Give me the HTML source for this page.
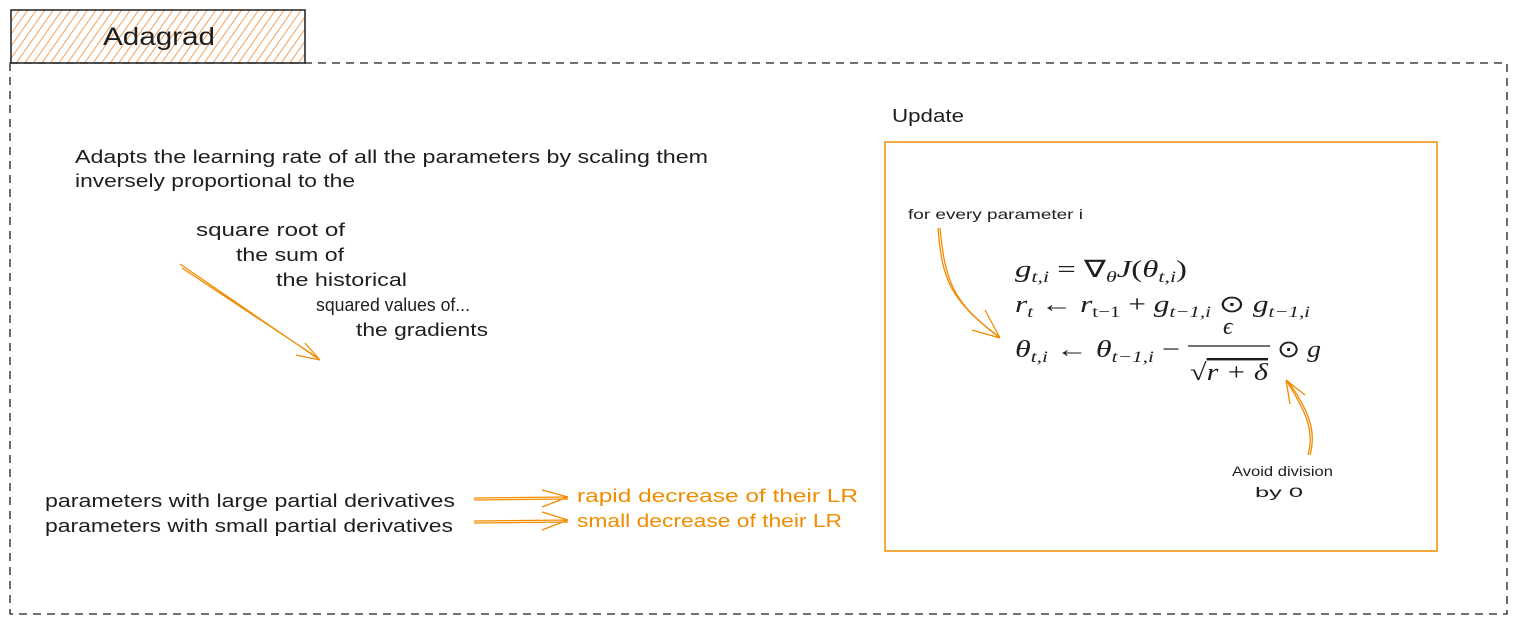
<!DOCTYPE html>
<html><head><meta charset="utf-8"><style>
html,body{margin:0;padding:0;background:#fff;width:1516px;height:623px;overflow:hidden}
text{font-family:"Liberation Sans",sans-serif}
.m{font-family:"Liberation Serif",serif;font-style:italic;font-size:24px}
.u{font-style:normal}
</style></head><body>
<svg width="1516" height="623" viewBox="0 0 1516 623" xmlns="http://www.w3.org/2000/svg">
<defs>
<pattern id="hatch" width="7" height="7" patternUnits="userSpaceOnUse" patternTransform="rotate(35)">
<line x1="0" y1="0" x2="0" y2="7" stroke="#f5a05a" stroke-width="2"/>
</pattern>
</defs>
<g>
<rect x="11" y="10" width="294" height="53" fill="url(#hatch)" stroke="#1e1e1e" stroke-width="1.5"/>
<text x="103" y="45" font-size="25" fill="#1e1e1e" textLength="112" lengthAdjust="spacingAndGlyphs">Adagrad</text>
</g>
<rect x="10" y="63" width="1497" height="551" fill="none" stroke="#1e1e1e" stroke-width="1.3" stroke-dasharray="8 6"/>
<g font-size="18" fill="#1e1e1e" lengthAdjust="spacingAndGlyphs">
<text x="75" y="163" textLength="633" lengthAdjust="spacingAndGlyphs">Adapts the learning rate of all the parameters by scaling them</text>
<text x="75" y="187" textLength="280" lengthAdjust="spacingAndGlyphs">inversely proportional to the</text>
<text x="196" y="236" textLength="149" lengthAdjust="spacingAndGlyphs">square root of</text>
<text x="236" y="261" textLength="108" lengthAdjust="spacingAndGlyphs">the sum of</text>
<text x="276" y="286" textLength="131" lengthAdjust="spacingAndGlyphs">the historical</text>
<text x="316" y="311" textLength="154" lengthAdjust="spacingAndGlyphs">squared values of...</text>
<text x="356" y="336" textLength="132" lengthAdjust="spacingAndGlyphs">the gradients</text>
<text x="45" y="507" textLength="410" lengthAdjust="spacingAndGlyphs">parameters with large partial derivatives</text>
<text x="45" y="532" textLength="408" lengthAdjust="spacingAndGlyphs">parameters with small partial derivatives</text>
</g>
<g font-size="18" fill="#f08c00">
<text x="577" y="502" textLength="281" lengthAdjust="spacingAndGlyphs">rapid decrease of their LR</text>
<text x="577" y="527" textLength="265" lengthAdjust="spacingAndGlyphs">small decrease of their LR</text>
</g>
<g stroke="#f08c00" stroke-width="1.3" fill="none">
<path d="M180 264 L320 360 M182 268 L318 358 M320 360 L296 355 M320 360 L305 343"/>
<path d="M474 498 L568 497 M474 500 L568 499 M568 497 L542 490 M568 497 L542 507"/>
<path d="M474 521 L568 520 M474 523 L568 522 M568 520 L542 512 M568 520 L542 530"/>
<path d="M938 228 C942 280,950 300,1000 338 M940 228 C945 280,952 302,998 336 M1000 338 L972 330 M1000 338 L985 310"/>
<path d="M1308 455 C1315 430,1305 410,1286 380 M1310 455 C1317 430,1308 410,1288 381 M1286 380 L1290 404 M1286 380 L1305 395"/>
</g>
<text x="892" y="122" font-size="18" fill="#1e1e1e" textLength="72" lengthAdjust="spacingAndGlyphs">Update</text>
<rect x="885" y="142" width="552" height="409" fill="none" stroke="#f08c00" stroke-width="1.5"/>
<text x="908" y="219" font-size="14" fill="#1e1e1e" textLength="175" lengthAdjust="spacingAndGlyphs">for every parameter i</text>
<g fill="#1e1e1e">
<text class="m" x="1015" y="277" textLength="172" lengthAdjust="spacingAndGlyphs">g<tspan font-size="16" dy="5">t,i</tspan><tspan dy="-5" class="u"> = ∇</tspan><tspan font-size="16" dy="5">θ</tspan><tspan dy="-5">J</tspan><tspan class="u">(</tspan>θ<tspan font-size="16" dy="5">t,i</tspan><tspan dy="-5" class="u">)</tspan></text>
<text class="m" x="1015" y="312" textLength="295" lengthAdjust="spacingAndGlyphs">r<tspan font-size="16" dy="5">t</tspan><tspan dy="-5" class="u"> ← </tspan>r<tspan font-size="16" dy="5" class="u">t−1</tspan><tspan dy="-5" class="u"> + </tspan>g<tspan font-size="16" dy="5">t−1,i</tspan><tspan dy="-5" class="u"> ⊙ </tspan>g<tspan font-size="16" dy="5">t−1,i</tspan></text>
<text class="m" x="1015" y="357" textLength="165" lengthAdjust="spacingAndGlyphs">θ<tspan font-size="16" dy="5">t,i</tspan><tspan dy="-5" class="u"> ← </tspan>θ<tspan font-size="16" dy="5">t−1,i</tspan><tspan dy="-5" class="u"> −</tspan></text>
<text class="m" x="1223" y="334">ϵ</text>
<line x1="1188" y1="346" x2="1270" y2="346" stroke="#1e1e1e" stroke-width="1.3"/>
<text class="m" x="1190" y="380" textLength="78" lengthAdjust="spacingAndGlyphs"><tspan class="u">√</tspan><tspan text-decoration="overline">r + δ</tspan></text>
<text class="m" x="1277" y="357" textLength="44" lengthAdjust="spacingAndGlyphs"><tspan class="u">⊙ </tspan>g</text>
</g>
<g font-size="14" fill="#1e1e1e">
<text x="1232" y="476" textLength="101" lengthAdjust="spacingAndGlyphs">Avoid division</text>
<text x="1255" y="497" textLength="48" lengthAdjust="spacingAndGlyphs">by 0</text>
</g>
</svg>
</body></html>
